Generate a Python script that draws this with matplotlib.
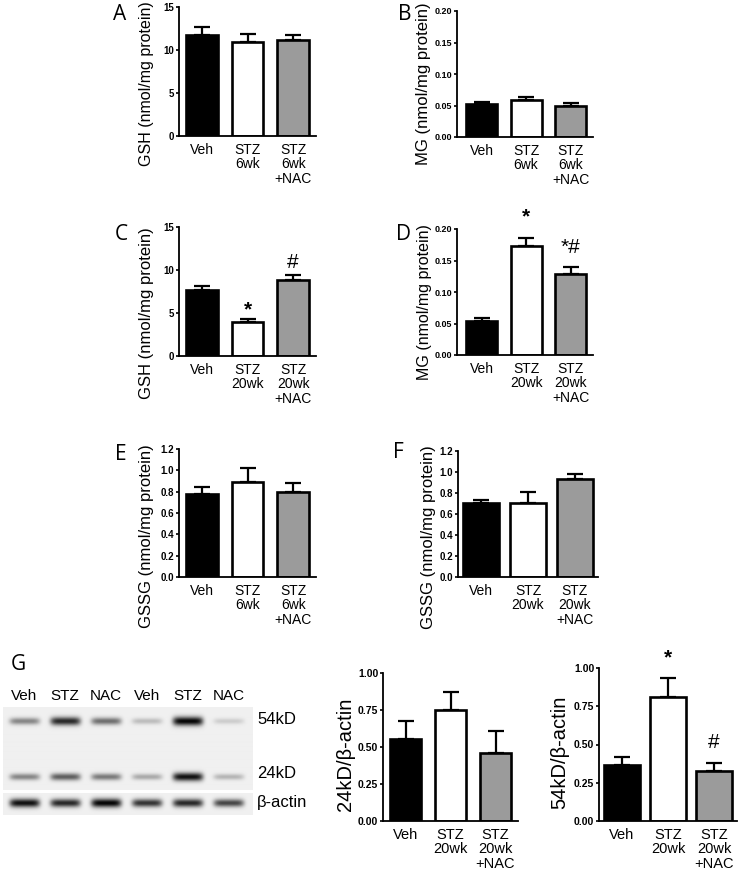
import numpy as np
import matplotlib
matplotlib.use('Agg')
import matplotlib.pyplot as plt

plt.rcParams['font.family'] = ['Liberation Sans', 'DejaVu Sans']

# ---------------- data ----------------
cats_6wk = ['Veh', 'STZ\n6wk', 'STZ\n6wk\n+NAC']
cats_20wk = ['Veh', 'STZ\n20wk', 'STZ\n20wk\n+NAC']

gsh_6wk = [11.75, 10.93, 11.2]
gsh_6wk_err = [0.95, 0.9, 0.5]
mg_6wk = [0.052, 0.058, 0.049]
mg_6wk_err = [0.003, 0.005, 0.005]

gsh_20wk = [7.7, 4.0, 8.8]
gsh_20wk_err = [0.47, 0.35, 0.58]
gsh_20wk_sig = ['', '*', '#']
mg_20wk = [0.0545, 0.173, 0.128]
mg_20wk_err = [0.0042, 0.013, 0.011]
mg_20wk_sig = ['', '*', '*#']

gssg_6wk = [0.776, 0.893, 0.80]
gssg_6wk_err = [0.064, 0.132, 0.08]
gssg_20wk = [0.708, 0.708, 0.933]
gssg_20wk_err = [0.029, 0.098, 0.047]

ratio_24kd = [0.553, 0.752, 0.458]
ratio_24kd_err = [0.124, 0.117, 0.149]
ratio_54kd = [0.369, 0.81, 0.328]
ratio_54kd_err = [0.052, 0.127, 0.05]
ratio_54kd_sig = ['', '*', '#']

blot_lanes = ['Veh', 'STZ', 'NAC', 'Veh', 'STZ', 'NAC']
band_54kd = [0.45, 0.85, 0.55, 0.22, 1.0, 0.15]
band_24kd = [0.45, 0.62, 0.5, 0.3, 0.95, 0.25]
band_actin = [0.95, 0.85, 1.0, 0.8, 0.85, 0.72]
blot_markers = ['54kD', '24kD', 'β-actin']

bar_colors = ['black', 'white', '#9b9b9b']

# ---------------- figure ----------------
W, H = 740, 874
fig = plt.figure(figsize=(W / 100, H / 100), dpi=100)


def px_axes(l, t, r, b):
    return fig.add_axes([l / W, 1 - b / H, (r - l) / W, (b - t) / H])


def bar_panel(rect, cats, vals, errs, ylim, yticks, yfmt, ylabel, ylab_xy,
              ylab_fs=12, letter=None, letter_xy=None, sig=None, sig_off=None,
              width=0.7, tick_fs=7, cat_fs=10, xlim=(-0.5, 2.5)):
    ax = px_axes(*rect)
    x = np.arange(len(vals))
    ax.errorbar(x, vals, yerr=[np.zeros(len(vals)), errs], fmt='none',
                ecolor='black', elinewidth=1.6, capsize=6, capthick=1.6,
                zorder=1)
    ax.bar(x, vals, width=width, color=bar_colors, edgecolor='black',
           linewidth=1.9, zorder=2)
    ax.set_xlim(*xlim)
    ax.set_ylim(*ylim)
    ax.set_yticks(yticks)
    ax.set_yticklabels([yfmt.format(v) for v in yticks], fontsize=tick_fs,
                       fontweight='bold')
    ax.set_xticks(x)
    ax.set_xticklabels(cats, fontsize=cat_fs, linespacing=1.05, va='top')
    ax.tick_params(axis='x', length=0, pad=5)
    ax.tick_params(axis='y', length=2.5, width=1.2, pad=1, direction='out')
    for s in ['top', 'right']:
        ax.spines[s].set_visible(False)
    for s in ['left', 'bottom']:
        ax.spines[s].set_linewidth(1.3)
    fig.text(ylab_xy[0] / W, 1 - ylab_xy[1] / H, ylabel, rotation=90,
             ha='center', va='center', fontsize=ylab_fs)
    if letter:
        fig.text(letter_xy[0] / W, 1 - letter_xy[1] / H, letter,
                 ha='center', va='center', fontsize=15,
                 family=['Open Sans', 'DejaVu Sans'])
    if sig:
        for i, s in enumerate(sig):
            if s:
                ax.annotate(s, xy=(x[i], vals[i] + errs[i]),
                            xytext=(0, sig_off[i]), textcoords='offset points',
                            ha='center', va='center', fontsize=15,
                            fontweight='bold' if s == '*' else 'normal',
                            annotation_clip=False)
    return ax


# A
bar_panel((179, 7, 316, 136), cats_6wk, gsh_6wk, gsh_6wk_err, (0, 15),
          [0, 5, 10, 15], '{:g}', 'GSH (nmol/mg protein)', (147, 84),
          ylab_fs=11.5, letter='A', letter_xy=(120, 15))
# B
bar_panel((457, 11, 593, 137), cats_6wk, mg_6wk, mg_6wk_err, (0, 0.2),
          [0, 0.05, 0.10, 0.15, 0.20], '{:.2f}', 'MG (nmol/mg protein)',
          (423, 84), letter='B', letter_xy=(405, 15), xlim=(-0.55, 2.5),
          tick_fs=6.5)
# C
bar_panel((179, 227, 316, 356), cats_20wk, gsh_20wk, gsh_20wk_err, (0, 15),
          [0, 5, 10, 15], '{:g}', 'GSH (nmol/mg protein)', (147, 313),
          letter='C', letter_xy=(121, 234), sig=gsh_20wk_sig,
          sig_off=[0, 6, 9])
# D
bar_panel((457, 229, 593, 355), cats_20wk, mg_20wk, mg_20wk_err, (0, 0.2),
          [0, 0.05, 0.10, 0.15, 0.20], '{:.2f}', 'MG (nmol/mg protein)',
          (424, 302), letter='D', letter_xy=(404, 234), sig=mg_20wk_sig,
          sig_off=[0, 15, 14], xlim=(-0.55, 2.5), ylab_fs=11.5, tick_fs=6.5)
# E
bar_panel((179, 449, 316, 577), cats_6wk, gssg_6wk, gssg_6wk_err, (0, 1.2),
          [0, 0.2, 0.4, 0.6, 0.8, 1.0, 1.2], '{:.1f}',
          'GSSG (nmol/mg protein)', (147, 536), letter='E',
          letter_xy=(121, 454))
# F
bar_panel((458, 451, 598, 577), cats_20wk, gssg_20wk, gssg_20wk_err, (0, 1.2),
          [0, 0.2, 0.4, 0.6, 0.8, 1.0, 1.2], '{:.1f}',
          'GSSG (nmol/mg protein)', (428, 537), letter='F',
          letter_xy=(398, 452), width=0.77)
# G bar charts
bar_panel((383, 673, 518, 821), cats_20wk, ratio_24kd, ratio_24kd_err, (0, 1.0),
          [0, 0.25, 0.5, 0.75, 1.0], '{:.2f}', '24kD/β-actin', (345, 754),
          ylab_fs=14.5, tick_fs=7.5, cat_fs=10.5)
bar_panel((599, 668, 737, 821), cats_20wk, ratio_54kd, ratio_54kd_err, (0, 1.0),
          [0, 0.25, 0.5, 0.75, 1.0], '{:.2f}', '54kD/β-actin', (560, 752),
          ylab_fs=14.5, tick_fs=7.5, cat_fs=10.5, sig=ratio_54kd_sig,
          sig_off=[0, 14, 15], width=0.8)

fig.text(18 / W, 1 - 665 / H, 'G', ha='center', va='center', fontsize=15,
         family=['Open Sans', 'DejaVu Sans'])

# ---------------- western blot ----------------
n = len(blot_lanes)
x0, x1 = -0.52, 5.58
bg = 0.94


def blot_image(rows, bands, intensity_lists, sigmas):
    xs = np.linspace(x0, x1, 250)
    ys = np.arange(rows) + 0.5
    img = np.zeros((rows, xs.size))
    for yc, inten, sg in zip(bands, intensity_lists, sigmas):
        for i, v in enumerate(inten):
            xprof = np.exp(-((xs - i) / 0.37) ** 6)
            s = sg * (0.7 + 0.5 * v)
            yprof = np.exp(-0.5 * ((ys - yc) / s) ** 2)
            img += v * np.outer(yprof, xprof)
    img = np.clip(img, 0, 1.05)
    return bg - 0.92 * img


bax = px_axes(3, 707, 253, 790)
main = blot_image(83, [15, 70], [band_54kd, band_24kd], [2.6, 2.5])
bax.imshow(main, cmap='gray', vmin=0, vmax=1, aspect='auto',
           extent=(x0, x1, 83, 0), interpolation='bilinear')
bax.set_axis_off()

aax = px_axes(3, 793, 253, 815)
act = blot_image(22, [10], [band_actin], [2.6])
aax.imshow(act, cmap='gray', vmin=0, vmax=1, aspect='auto',
           extent=(x0, x1, 22, 0), interpolation='bilinear')
aax.set_axis_off()

for i, lab in enumerate(blot_lanes):
    bax.text(i, -4, lab, ha='center', va='bottom', fontsize=11,
             clip_on=False)

for lab, ypx in zip(blot_markers, [719, 774, 803]):
    fig.text(257 / W, 1 - ypx / H, lab, ha='left', va='center', fontsize=12)

fig.savefig('out.png', dpi=100)
